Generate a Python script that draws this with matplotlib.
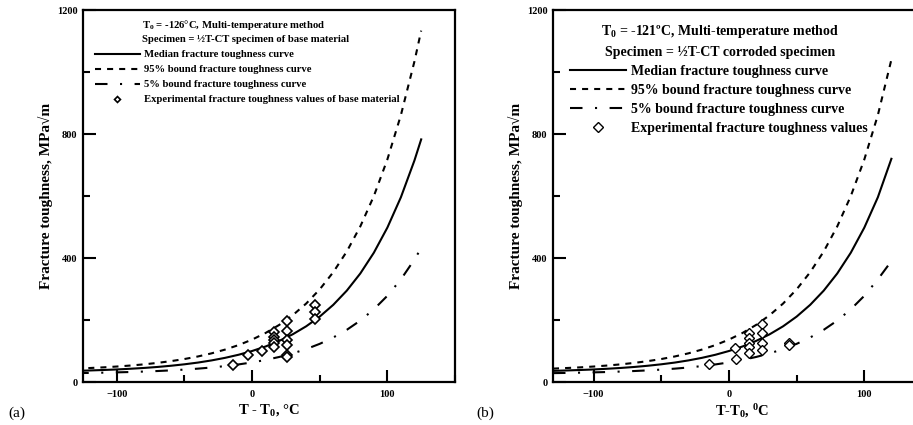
import matplotlib
matplotlib.use("Agg")
import matplotlib.pyplot as plt
from matplotlib.ticker import MultipleLocator, FixedLocator

plt.rcParams['font.family'] = ['Liberation Serif', 'DejaVu Serif']
plt.rcParams['font.weight'] = 'bold'
plt.rcParams['mathtext.fontset'] = 'custom'
plt.rcParams['mathtext.rm'] = 'Liberation Serif:bold'
plt.rcParams['mathtext.bf'] = 'Liberation Serif:bold'
plt.rcParams['mathtext.it'] = 'Liberation Serif:bold'

# ---- curve values (T - T0 in degC, K in MPa sqrt(m)) ----
dt_a = [-130, -120, -110, -100, -90, -80, -70, -60, -50, -40, -30, -20, -10, 0,
        10, 20, 30, 40, 50, 60, 70, 80, 90, 100, 110, 120, 125]
median_a = [35.9, 37.2, 38.7, 40.5, 42.7, 45.3, 48.5, 52.4, 57.1, 62.7, 69.6, 77.9, 87.9, 100.0,
            114.6, 132.4, 153.8, 179.7, 211.0, 248.9, 294.7, 350.1, 417.0, 498.0, 595.9, 714.4, 782.6]
upper_a = [43.2, 45.1, 47.2, 49.9, 53.1, 56.9, 61.6, 67.3, 74.1, 82.4, 92.4, 104.5, 119.1, 136.8,
           158.2, 184.0, 215.3, 253.1, 298.9, 354.2, 421.0, 501.9, 599.7, 717.9, 860.9, 1033.8, 1133.4]
lower_a = [28.6, 29.3, 30.1, 31.1, 32.2, 33.7, 35.4, 37.5, 40.0, 43.1, 46.8, 51.3, 56.7, 63.2,
           71.1, 80.7, 92.2, 106.2, 123.1, 143.6, 168.3, 198.2, 234.4, 278.1, 331.0, 395.0, 431.8]

dt_b = [-130, -120, -110, -100, -90, -80, -70, -60, -50, -40, -30, -20, -10, 0,
        10, 20, 30, 40, 50, 60, 70, 80, 90, 100, 110, 120]
median_b = [35.9, 37.2, 38.7, 40.5, 42.7, 45.3, 48.5, 52.4, 57.1, 62.7, 69.6, 77.9, 87.9, 100.0,
            114.6, 132.4, 153.8, 179.7, 211.0, 248.9, 294.7, 350.1, 417.0, 498.0, 595.9, 720.0]
upper_b = [43.2, 45.1, 47.2, 49.9, 53.1, 56.9, 61.6, 67.3, 74.1, 82.4, 92.4, 104.5, 119.1, 136.8,
           158.2, 184.0, 215.3, 253.1, 298.9, 354.2, 421.0, 501.9, 599.7, 717.9, 860.9, 1040.0]
lower_b = [28.6, 29.3, 30.1, 31.1, 32.2, 33.7, 35.4, 37.5, 40.0, 43.1, 46.8, 51.3, 56.7, 63.2,
           71.1, 80.7, 92.2, 106.2, 123.1, 143.6, 168.3, 198.2, 234.4, 278.1, 331.0, 390.0]

# ---- experimental points ----
exp_dt_a = [-14, -3, 7, 16.5, 16.5, 16.5, 16.5, 16.5, 26, 26, 26, 26, 26, 26, 46.5, 46.5, 46.5]
exp_k_a = [56, 88, 101, 162, 146, 135, 125, 112, 198, 165, 135, 119, 87, 82, 250, 225, 202]

exp_dt_b = [-15, 4.5, 5, 15, 15, 15, 15, 15, 24.5, 24.5, 24.5, 24.5, 44, 44]
exp_k_b = [58, 109, 73, 157, 143, 125, 112, 95, 186, 157, 127, 103, 125, 119]

headers_a = ["T$_0$ = -126°C, Multi-temperature method",
             "Specimen = ½T-CT specimen of base material"]
labels_a = ["Median fracture toughness curve",
            "95% bound fracture toughness curve",
            "5% bound fracture toughness curve",
            "Experimental fracture toughness values of base material"]
headers_b = ["T$_0$ = -121ºC, Multi-temperature method",
             "Specimen = ½T-CT corroded specimen"]
labels_b = ["Median fracture toughness curve",
            "95% bound fracture toughness curve",
            "5% bound fracture toughness curve",
            "Experimental fracture toughness values"]

W, H = 913, 425
fig = plt.figure(figsize=(W / 100, H / 100), dpi=100)

dash_style = (0, (2.9, 2.9))
dashdot_style = (0, (6.0, 6.0, 1.0, 6.0))


def setup(ax, xlim):
    ax.set_xlim(*xlim)
    ax.set_ylim(0, 1200)
    ax.xaxis.set_major_locator(FixedLocator([-100, 0, 100]))
    ax.xaxis.set_minor_locator(FixedLocator([-50, 50, 150]))
    ax.yaxis.set_major_locator(MultipleLocator(400))
    ax.yaxis.set_minor_locator(MultipleLocator(200))
    ax.tick_params(which='both', direction='in', top=False, right=False, width=1.5,
                   labelsize=7.5)
    ax.tick_params(which='major', length=9)
    ax.tick_params(which='minor', length=5)
    ax.tick_params(axis='x', pad=6)
    ax.tick_params(axis='y', pad=4)
    for s in ax.spines.values():
        s.set_linewidth(1.6)
    ax.set_ylabel("Fracture toughness, MPa√m", fontsize=11, fontweight='bold', labelpad=3)


# ----- panel (a) -----
ax1 = fig.add_axes([83 / W, 43 / H, 372 / W, 372 / H])
setup(ax1, (-125, 150))
ax1.plot(dt_a, median_a, color='black', lw=1.5, label=labels_a[0])
ax1.plot(dt_a, upper_a, color='black', lw=1.5, linestyle=dash_style, label=labels_a[1])
ax1.plot(dt_a, lower_a, color='black', lw=1.5, linestyle=dashdot_style, label=labels_a[2])
ax1.plot(exp_dt_a, exp_k_a, linestyle='none', marker='D', markersize=5, markerfacecolor='white',
         markeredgecolor='black', markeredgewidth=1.2, label=labels_a[3])
ax1.set_xlabel("T - T$_0$, °C", fontsize=10.5, fontweight='bold', labelpad=2)
ax1.text(0.159, 0.960, headers_a[0], transform=ax1.transAxes, fontsize=7.7,
         fontweight='bold', va='center', ha='left')
ax1.text(0.159, 0.920, headers_a[1], transform=ax1.transAxes, fontsize=7.7,
         fontweight='bold', va='center', ha='left')
leg1 = ax1.legend(loc='upper left', bbox_to_anchor=(0.032, 0.893), frameon=False,
                  prop={'size': 7.7, 'weight': 'bold'}, handlelength=4.2, handletextpad=0.4,
                  labelspacing=0.52, borderpad=0, borderaxespad=0, markerscale=0.6)

# ----- panel (b) -----
ax2 = fig.add_axes([553 / W, 43 / H, 379 / W, 372 / H])
setup(ax2, (-130, 150))
ax2.plot(dt_b, median_b, color='black', lw=1.5, label=labels_b[0])
ax2.plot(dt_b, upper_b, color='black', lw=1.5, linestyle=dash_style, label=labels_b[1])
ax2.plot(dt_b, lower_b, color='black', lw=1.5, linestyle=dashdot_style, label=labels_b[2])
ax2.plot(exp_dt_b, exp_k_b, linestyle='none', marker='D', markersize=5, markerfacecolor='white',
         markeredgecolor='black', markeredgewidth=1.0, label=labels_b[3])
ax2.set_xlabel("T-T$_0$, $^0$C", fontsize=10.5, fontweight='bold', labelpad=2)
ax2.text(0.44, 0.941, headers_b[0], transform=ax2.transAxes, fontsize=10,
         fontweight='bold', va='center', ha='center')
ax2.text(0.44, 0.887, headers_b[1], transform=ax2.transAxes, fontsize=10,
         fontweight='bold', va='center', ha='center')
leg2 = ax2.legend(loc='upper left', bbox_to_anchor=(0.045, 0.853), frameon=False,
                  prop={'size': 10, 'weight': 'bold'}, handlelength=4.0, handletextpad=0.4,
                  labelspacing=0.44, borderpad=0, borderaxespad=0)

fig.text(8 / W, 1 - 413 / H, "(a)", fontsize=11, fontweight='normal', va='center', ha='left')
fig.text(476 / W, 1 - 413 / H, "(b)", fontsize=11, fontweight='normal', va='center', ha='left')

fig.savefig("out.png", dpi=100)
